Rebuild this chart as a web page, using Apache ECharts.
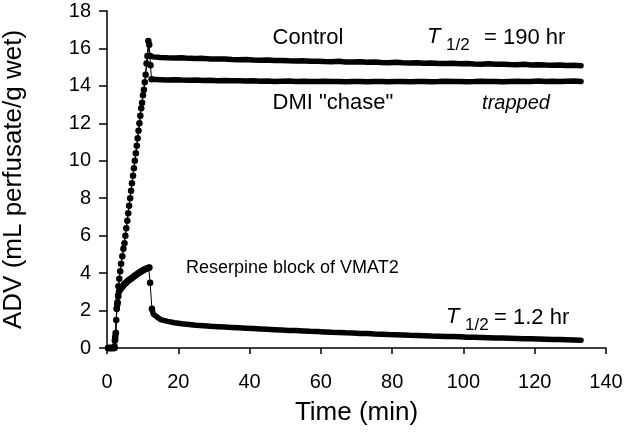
<!DOCTYPE html>
<html><head><meta charset="utf-8">
<script src="https://cdn.jsdelivr.net/npm/echarts@6/dist/echarts.min.js"></script>
<style>html,body{margin:0;padding:0;background:#fff}#c{width:626px;height:442px}</style>
</head><body><div id="c"></div>
<script>
// rise-phase samples (min, value)
const controlRiseT = [0.3,0.8,1.3,1.8,2.0,2.2,2.45,2.7,2.95,3.2,3.7,4.3,4.9,5.4,5.95,6.5,7.0,7.55,8.1,8.6,9.1,9.6,10.1,10.6,11.1,11.6,12.1];
const controlRiseV = [0,0,0,0,0,0.4,0.8,2.1,2.4,3.3,4.1,4.9,5.6,6.4,7.2,8.0,8.8,9.6,10.4,11.2,12.0,12.8,13.5,14.2,15.2,16.4,15.6];
const dmiRiseT = [0.5,1.0,1.5,2.1,2.3,2.6,2.85,3.1,3.45,3.95,4.6,5.15,5.7,6.2,6.75,7.3,7.8,8.35,8.85,9.35,9.85,10.35,10.85,11.35,11.85,12.2,12.5];
const dmiRiseV = [0,0,0,0,0.6,1.5,2.3,2.8,3.7,4.5,5.3,6.0,6.8,7.6,8.4,9.2,10.0,10.8,11.6,12.4,13.1,13.8,14.6,15.6,16.2,15.1,14.35];
const reserpineRiseT = [0.3,0.8,1.3,1.8,2.1,2.3,2.5,2.75,2.95,3.15,3.35,3.6,3.9,4.2,4.5,4.8,5.1,5.4,5.7,6.0,6.3,6.6,6.9,7.2,7.5,7.8,8.1,8.4,8.7,9.0,9.3,9.6,9.9,10.2,10.5,10.8,11.1,11.4,11.7,11.9,12.1,12.6];
const reserpineRiseV = [0,0,0,0,0.1,0.45,0.8,2.1,2.45,2.75,3.0,3.1,3.18,3.25,3.32,3.39,3.45,3.5,3.55,3.6,3.65,3.69,3.73,3.77,3.82,3.86,3.9,3.94,3.98,4.02,4.06,4.09,4.12,4.16,4.19,4.22,4.24,4.26,4.28,4.3,3.49,2.1];

// plateau / washout samples
const tailTimes = [13,15,17,19,21,23,25,27,29,31,33,35,37,39,41,43,45,47,49,51,53,55,57,59,61,63,65,67,69,71,73,75,77,79,81,83,85,87,89,91,93,95,97,99,101,103,105,107,109,111,113,115,117,119,121,123,125,127,129,131,133];
const controlTail = [15.55,15.52,15.50,15.49,15.50,15.47,15.46,15.47,15.44,15.43,15.44,15.41,15.40,15.41,15.38,15.37,15.38,15.35,15.36,15.34,15.33,15.34,15.31,15.32,15.30,15.29,15.31,15.28,15.27,15.29,15.26,15.27,15.25,15.24,15.26,15.23,15.22,15.24,15.21,15.22,15.20,15.19,15.21,15.18,15.19,15.17,15.16,15.18,15.15,15.16,15.14,15.13,15.15,15.12,15.13,15.11,15.10,15.12,15.09,15.10,15.08];
const dmiTail = [14.35,14.33,14.32,14.33,14.31,14.30,14.31,14.29,14.30,14.28,14.29,14.27,14.28,14.26,14.27,14.25,14.26,14.24,14.25,14.26,14.24,14.25,14.23,14.24,14.25,14.23,14.24,14.22,14.23,14.24,14.22,14.23,14.24,14.22,14.23,14.24,14.22,14.23,14.24,14.22,14.23,14.25,14.23,14.24,14.22,14.23,14.25,14.23,14.24,14.22,14.24,14.25,14.23,14.24,14.26,14.24,14.25,14.23,14.25,14.26,14.24];
const reserpineTail = [1.80,1.52,1.42,1.35,1.30,1.26,1.22,1.19,1.16,1.14,1.12,1.10,1.08,1.06,1.04,1.02,1.00,0.98,0.96,0.94,0.93,0.91,0.89,0.88,0.86,0.84,0.83,0.81,0.80,0.78,0.77,0.75,0.74,0.72,0.71,0.70,0.68,0.67,0.66,0.64,0.63,0.62,0.61,0.60,0.58,0.57,0.56,0.55,0.54,0.53,0.52,0.51,0.50,0.49,0.48,0.47,0.46,0.45,0.44,0.43,0.42];

const xTicks = [0,20,40,60,80,100,120,140];
const yTicks = [0,2,4,6,8,10,12,14,16,18];

function pairs(t, v) { return t.map((x, i) => [x, v[i]]); }
function last(t, v) { return [t[t.length - 1], v[v.length - 1]]; }

const FONT = 'Liberation Sans, Arial, sans-serif';
const chart = echarts.init(document.getElementById('c'), null, {renderer: 'canvas'});

function riseSer(name, data) {
  return {
    name, type: 'line', data, symbol: 'circle', symbolSize: 6.5,
    itemStyle: {color: '#000'}, lineStyle: {color: '#000', width: 1},
    animation: false, z: 3
  };
}
function tailSer(name, data) {
  return {
    name, type: 'line', data, showSymbol: false, symbol: 'none',
    lineStyle: {color: '#000', width: 5.5, cap: 'round', join: 'round'},
    animation: false, z: 3
  };
}

function txt(x, y, text, size, opts) {
  return {
    type: 'text', x, y, silent: true,
    style: Object.assign({text, fill: '#000', font: size + 'px ' + FONT, textAlign: 'left', textVerticalAlign: 'middle'}, opts || {})
  };
}

chart.setOption({
  animation: false,
  backgroundColor: '#fff',
  grid: {left: 107, right: 20, top: 11, bottom: 94, outerBoundsMode: 'none', containLabel: false},
  xAxis: {
    type: 'value', min: xTicks[0], max: xTicks[xTicks.length - 1], interval: 20,
    name: 'Time (min)', nameLocation: 'middle', nameGap: 52,
    nameTextStyle: {fontSize: 26, color: '#000', fontFamily: FONT},
    axisLine: {lineStyle: {color: '#000', width: 1.5}},
    axisTick: {inside: false, length: 6, lineStyle: {color: '#000', width: 1.5}},
    axisLabel: {fontSize: 20, color: '#000', fontFamily: FONT, margin: 24},
    splitLine: {show: false}
  },
  yAxis: {
    type: 'value', min: yTicks[0], max: yTicks[yTicks.length - 1], interval: 2,
    name: 'ADV (mL perfusate/g wet)', nameLocation: 'middle', nameGap: 80, nameRotate: 90,
    nameTextStyle: {fontSize: 26, color: '#000', fontFamily: FONT},
    axisLine: {show: true, lineStyle: {color: '#000', width: 1.5}},
    axisTick: {show: true, inside: false, length: 8, lineStyle: {color: '#000', width: 1.5}},
    axisLabel: {fontSize: 20, color: '#000', fontFamily: FONT, margin: 16},
    splitLine: {show: false}
  },
  series: [
    tailSer('Control', [last(controlRiseT, controlRiseV)].concat(pairs(tailTimes, controlTail))),
    tailSer('DMI "chase"', [last(dmiRiseT, dmiRiseV)].concat(pairs(tailTimes, dmiTail))),
    tailSer('Reserpine block of VMAT2', [last(reserpineRiseT, reserpineRiseV)].concat(pairs(tailTimes, reserpineTail))),
    riseSer('Control', pairs(controlRiseT, controlRiseV)),
    riseSer('DMI "chase"', pairs(dmiRiseT, dmiRiseV)),
    riseSer('Reserpine block of VMAT2', pairs(reserpineRiseT, reserpineRiseV))
  ],
  graphic: [
    txt(308, 38, 'Control', 22, {textAlign: 'center'}),
    txt(427, 37, 'T', 22, {font: 'italic 22px ' + FONT}),
    txt(446, 45, '1/2', 17),
    txt(484, 38, '= 190 hr', 22),
    txt(333, 103, 'DMI "chase"', 22, {textAlign: 'center'}),
    txt(516, 103, 'trapped', 20, {textAlign: 'center', font: 'italic 20px ' + FONT}),
    txt(186, 268, 'Reserpine block of VMAT2', 18),
    txt(446, 317, 'T', 22, {font: 'italic 22px ' + FONT}),
    txt(465, 325, '1/2', 17),
    txt(494, 318, '= 1.2 hr', 22)
  ]
});
</script></body></html>
